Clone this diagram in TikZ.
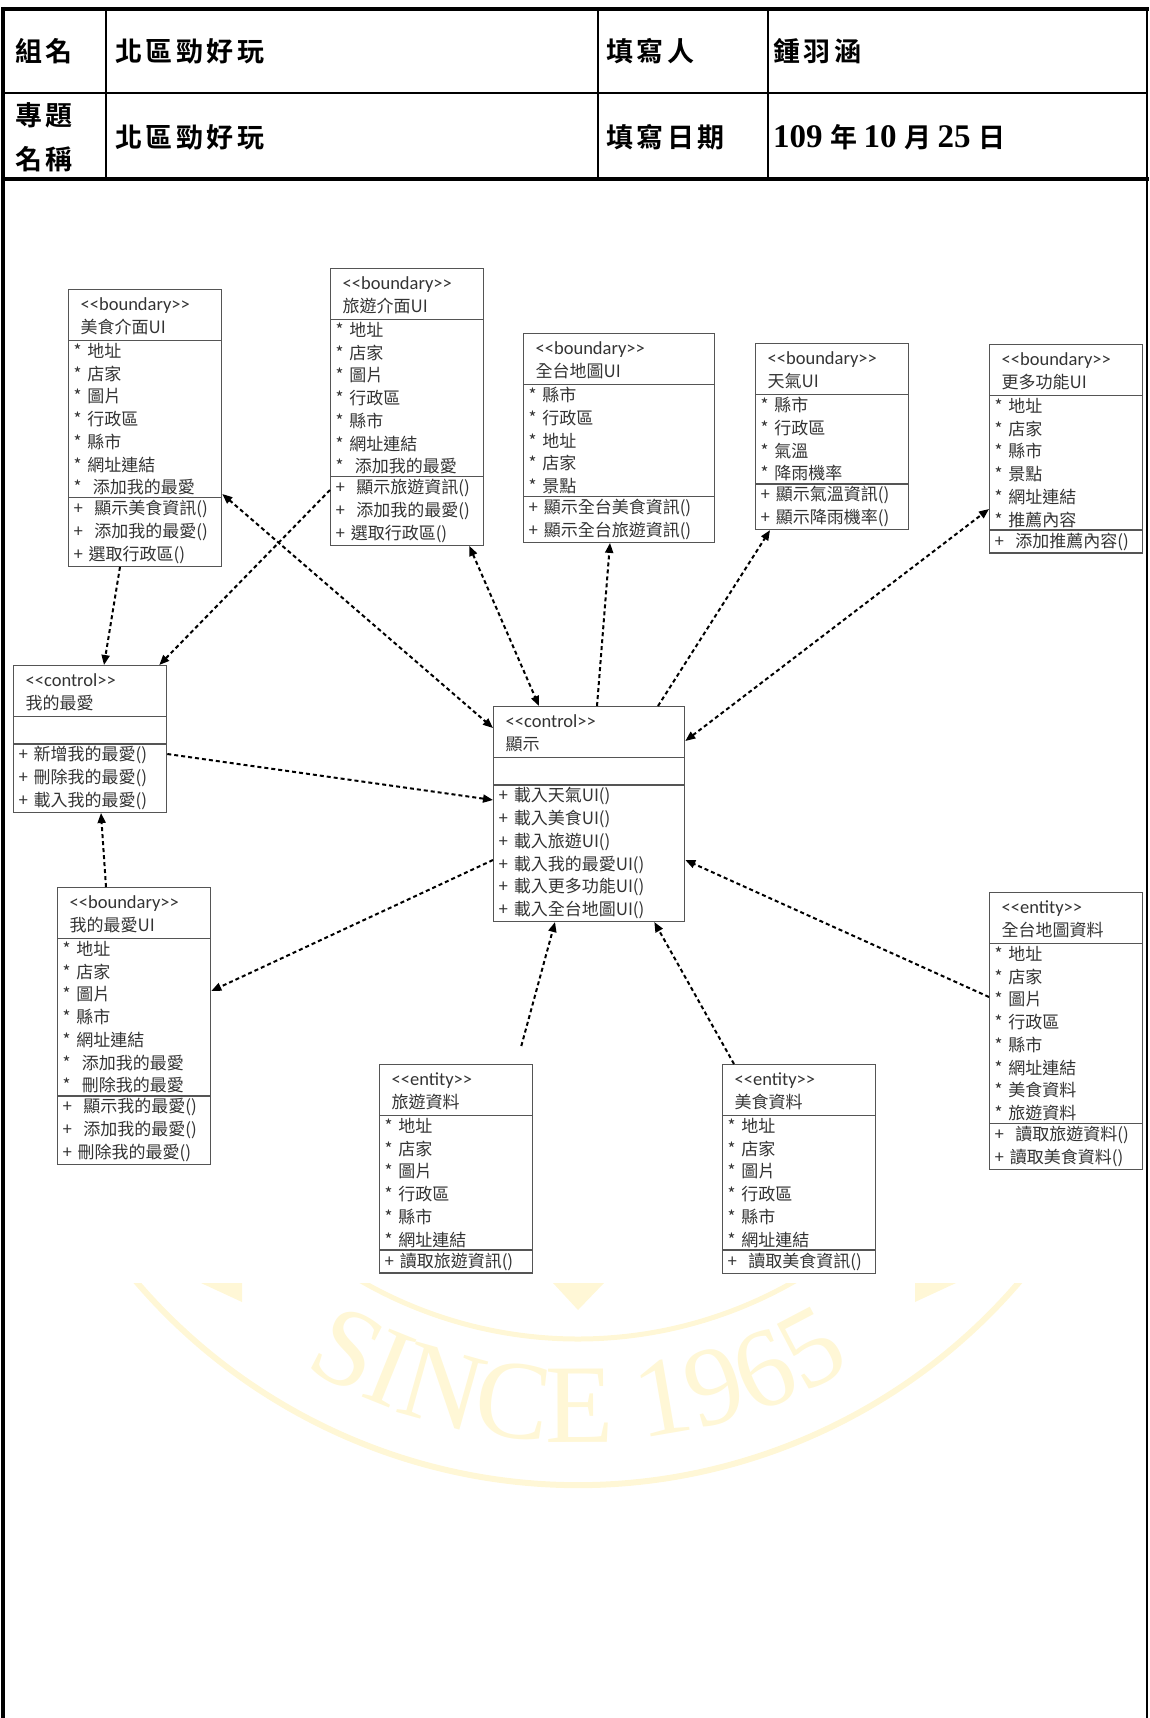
\documentclass[tikz,border=0pt]{standalone}
\usepackage{fontspec}
\setmainfont{Noto Sans CJK TC}
\newfontfamily\hdrfont{Noto Sans CJK TC Bold}[LetterSpace=13]
\newfontfamily\numfont{Liberation Serif}
\newfontfamily\stfont{Carlito}
\newfontfamily\wmfont{Liberation Serif}
\usepackage{tikz}
\usetikzlibrary{arrows.meta, shapes.multipart, decorations.text, calc}
\definecolor{wmark}{RGB}{255,247,214}
\definecolor{boxline}{RGB}{85,85,85}
\newcommand{\umlfont}{\fontsize{17}{22.7}\selectfont\lineskiplimit=-100pt\lineskip=0pt}
\newcommand{\stereo}[1]{{\fontsize{18.5}{22.7}\selectfont\stfont\mbox{<}\mbox{<}#1\mbox{>}\mbox{>}}}
\newcommand{\cname}[2]{\rule{0pt}{18pt}\hspace*{7pt}\stereo{#1}\\\hspace*{7pt}#2\rule[-5pt]{0pt}{5pt}}
\newcommand{\num}[1]{{\fontsize{33}{33}\selectfont\numfont\bfseries #1}}

\begin{document}
\begin{tikzpicture}[x=1pt, y=1pt,
  umlbox/.style={rectangle split, rectangle split parts=3, draw=boxline,
    line width=1.3pt, anchor=north west, text width=143pt, inner xsep=5pt,
    inner ysep=2pt, align=left, font=\umlfont, text=black!80},
  widebox/.style={text width=181pt},
  hdr/.style={font=\fontsize{27}{44}\selectfont\hdrfont, inner sep=0pt, anchor=west},
  dep/.style={line width=2pt, dash pattern=on 4pt off 3pt, -{Triangle[length=10pt, width=8pt]}},
  depboth/.style={dep, {Triangle[length=10pt, width=8pt]}-{Triangle[length=10pt, width=8pt]}}]
	\useasboundingbox (0,0) rectangle (1149,-1718);

	% watermark under the diagram
	\begin{scope}
		\clip (0,-1283) rectangle (1149,-1718);
		\coordinate (seal) at (578,-904);
		\draw[wmark, line width=6pt] (seal) ++(200:581) arc[start angle=200, end angle=340, radius=581];
		\draw[wmark, line width=5pt] (seal) ++(215:435) arc[start angle=215, end angle=325, radius=435];
		\path[decorate, decoration={text along path, text align=center, text color=wmark,
			text={|\fontsize{112}{112}\selectfont\wmfont|SINCE 1965}}]
			(seal) ++(225:538) arc[start angle=225, end angle=315, radius=538];
		\fill[wmark] (553,-1283) -- (604,-1283) -- (578,-1310) -- cycle;
		\fill[wmark] (201,-1283) -- (242,-1283) -- (242,-1302) -- cycle;
		\fill[wmark] (915,-1283) -- (956,-1283) -- (915,-1302) -- cycle;
	\end{scope}

	% form table
	\draw[line width=4pt] (3,-7) -- (3,-1718);
	\draw[line width=2.5pt] (1147,-7) -- (1147,-1718);
	\draw[line width=3.5pt] (1,-9) -- (1149,-9);
	\draw[line width=1.5pt] (3,-93) -- (1147,-93);
	\draw[line width=4.5pt] (1,-179) -- (1149,-179);
	\foreach \x in {106,598,768}
		\draw[line width=1.5pt] (\x,-9) -- (\x,-179);

	\node[hdr] (grp) at (15,-51) {組名};
	\node[hdr] (grpval) at (115,-51) {北區勁好玩};
	\node[hdr] (writer) at (606,-51) {填寫人};
	\node[hdr] (writerval) at (773,-51) {鍾羽涵};
	\node[hdr, align=left] (topic) at (15,-137) {專題\\名稱};
	\node[hdr] (topicval) at (115,-137) {北區勁好玩};
	\node[hdr] (date) at (606,-137) {填寫日期};
	\node[hdr] (dateval) at (773,-137) {\num{109}\hspace{8pt}年\hspace{6pt}\num{10}\hspace{8pt}月\hspace{6pt}\num{25}\hspace{8pt}日};

	% classes
	\node[umlbox] (foodUI) at (68,-289) {\cname{boundary}{美食介面UI}
		\nodepart{two}* 地址\\{}* 店家\\{}* 圖片\\{}* 行政區\\{}* 縣市\\{}* 網址連結\\{}*\ \ 添加我的最愛
		\nodepart{three}+\ \ 顯示美食資訊()\\{}+\ \ 添加我的最愛()\\{}+\ 選取行政區()};
	\node[umlbox] (tourUI) at (330,-268) {\cname{boundary}{旅遊介面UI}
		\nodepart{two}* 地址\\{}* 店家\\{}* 圖片\\{}* 行政區\\{}* 縣市\\{}* 網址連結\\{}*\ \ 添加我的最愛
		\nodepart{three}+\ \ 顯示旅遊資訊()\\{}+\ \ 添加我的最愛()\\{}+\ 選取行政區()};
	\node[umlbox, widebox] (mapUI) at (523,-333) {\cname{boundary}{全台地圖UI}
		\nodepart{two}* 縣市\\{}* 行政區\\{}* 地址\\{}* 店家\\{}* 景點
		\nodepart{three}+ 顯示全台美食資訊()\\{}+ 顯示全台旅遊資訊()};
	\node[umlbox] (weatherUI) at (755,-343) {\cname{boundary}{天氣UI}
		\nodepart{two}* 縣市\\{}* 行政區\\{}* 氣溫\\{}* 降雨機率
		\nodepart{three}+ 顯示氣溫資訊()\\{}+ 顯示降雨機率()};
	\node[umlbox] (moreUI) at (989,-344) {\cname{boundary}{更多功能UI}
		\nodepart{two}* 地址\\{}* 店家\\{}* 縣市\\{}* 景點\\{}* 網址連結\\{}* 推薦內容
		\nodepart{three}+\ \ 添加推薦內容()};
	\node[umlbox] (favctl) at (13,-665) {\cname{control}{我的最愛}
		\nodepart{two}\rule{0pt}{22pt}
		\nodepart{three}+ 新增我的最愛()\\{}+ 刪除我的最愛()\\{}+ 載入我的最愛()};
	\node[umlbox, widebox] (show) at (493,-706) {\cname{control}{顯示}
		\nodepart{two}\rule{0pt}{22pt}
		\nodepart{three}+ 載入天氣UI()\\{}+ 載入美食UI()\\{}+ 載入旅遊UI()\\{}+ 載入我的最愛UI()\\{}+\ 載入更多功能UI()\\{}+\ 載入全台地圖UI()};
	\node[umlbox] (favUI) at (57,-887) {\cname{boundary}{我的最愛UI}
		\nodepart{two}* 地址\\{}* 店家\\{}* 圖片\\{}* 縣市\\{}* 網址連結\\{}*\ \ 添加我的最愛\\{}*\ \ 刪除我的最愛
		\nodepart{three}+\ \ 顯示我的最愛()\\{}+\ \ 添加我的最愛()\\{}+\ 刪除我的最愛()};
	\node[umlbox] (tourdata) at (379,-1064) {\cname{entity}{旅遊資料}
		\nodepart{two}* 地址\\{}* 店家\\{}* 圖片\\{}* 行政區\\{}* 縣市\\{}* 網址連結
		\nodepart{three}+ 讀取旅遊資訊()};
	\node[umlbox] (fooddata) at (722,-1064) {\cname{entity}{美食資料}
		\nodepart{two}* 地址\\{}* 店家\\{}* 圖片\\{}* 行政區\\{}* 縣市\\{}* 網址連結
		\nodepart{three}+\ \ 讀取美食資訊()};
	\node[umlbox] (mapdata) at (989,-892) {\cname{entity}{全台地圖資料}
		\nodepart{two}* 地址\\{}* 店家\\{}* 圖片\\{}* 行政區\\{}* 縣市\\{}* 網址連結\\{}* 美食資料\\{}* 旅遊資料
		\nodepart{three}+\ \ 讀取旅遊資料()\\{}+ 讀取美食資料()};

	% dependencies
	\draw[dep] ($(foodUI.south west)+(52,0)$) -- ($(favctl.north west)+(91,0)$);
	\draw[dep] ($(tourUI.north west)+(0,-222)$) -- ($(favctl.north east)+(-8,0)$);
	\draw[depboth] ($(foodUI.north east)+(0,-205)$) -- ($(show.north west)+(0,-22)$);
	\draw[depboth] ($(tourUI.south east)+(-15,0)$) -- ($(show.north west)+(46,0)$);
	\draw[dep] ($(show.north west)+(104,0)$) -- ($(mapUI.south west)+(87,0)$);
	\draw[dep] ($(show.north west)+(165,0)$) -- ($(weatherUI.south west)+(15,0)$);
	\draw[depboth] ($(show.north east)+(0,-35)$) -- ($(moreUI.north west)+(0,-165)$);
	\draw[dep] ($(favctl.north east)+(0,-89)$) -- ($(show.north west)+(0,-94)$);
	\draw[dep] ($(favUI.north west)+(49,0)$) -- ($(favctl.south west)+(88,0)$);
	\draw[dep] ($(show.north west)+(0,-154)$) -- ($(favUI.north east)+(0,-104)$);
	\coordinate (tourfree) at ($(tourdata.north east)+(-12,18)$);
	\draw[dep] (tourfree) -- ($(show.south west)+(62,0)$);
	\draw[dep] ($(fooddata.north west)+(12,0)$) -- ($(show.south east)+(-31,0)$);
	\draw[dep] ($(mapdata.north west)+(0,-105)$) -- ($(show.north east)+(0,-154)$);
\end{tikzpicture}
\end{document}
